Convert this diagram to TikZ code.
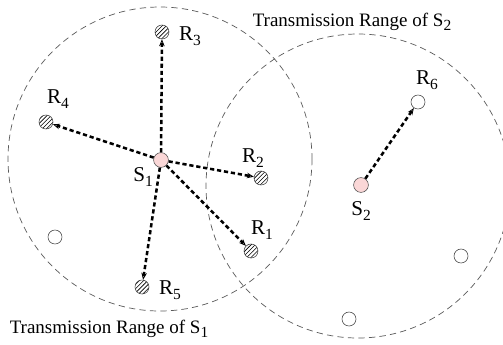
\documentclass[tikz,border=0pt]{standalone}
\usepackage{fontspec}
\setmainfont{Liberation Serif}
\usepackage{tikz}
\usetikzlibrary{patterns,arrows.meta}

\definecolor{srcpink}{RGB}{250,215,215}
\definecolor{rangegray}{RGB}{90,90,90}
\newcommand{\rsub}[1]{\raisebox{-0.45ex}{\fontsize{11}{13}\selectfont #1}}

\begin{document}
\begin{tikzpicture}[x=0.025cm,y=-0.025cm,
  font=\fontsize{13.5}{16}\selectfont,
  src/.style={circle,draw=black!70,fill=srcpink,minimum size=0.37cm,inner sep=0pt},
  rcv/.style={circle,draw=black!75,pattern=north east lines,minimum size=0.35cm,inner sep=0pt},
  idle/.style={circle,draw=black!75,fill=white,minimum size=0.35cm,inner sep=0pt},
  lab/.style={font=\fontsize{15}{17}\selectfont},
  rangeline/.style={draw=rangegray,dashed,dash pattern=on 4.5pt off 3pt,line width=0.5pt},
  send/.style={dashed,dash pattern=on 3pt off 2pt,line width=1.8pt,
    -{Stealth[open,length=5pt,width=4pt,line width=0.6pt]}}]
\useasboundingbox (0,0) rectangle (503,344);
\clip (0,0) rectangle (503,344);

% transmission ranges
\draw[rangeline] (160,159) circle[radius=152];
\draw[rangeline] (358,186) circle[radius=152];

\node (S1) at (161,160) [src] {};
\node (S2) at (361,185) [src] {};

\node (R1) at (251,251) [rcv] {};
\node (R2) at (261,178) [rcv] {};
\node (R3) at (162,32) [rcv] {};
\node (R4) at (46,122) [rcv] {};
\node (R5) at (142,287) [rcv] {};
\node (R6) at (418,102) [idle] {};

\node (N1) at (55,237) [idle] {};
\node (N2) at (461,256) [idle] {};
\node (N3) at (349,319) [idle] {};

\node (lS1) at (143,177) [lab] {S\rsub{1}};
\node (lS2) at (361,211) [lab] {S\rsub{2}};
\node (lR1) at (262,230) [lab] {R\rsub{1}};
\node (lR2) at (253,158) [lab] {R\rsub{2}};
\node (lR3) at (190,36) [lab] {R\rsub{3}};
\node (lR4) at (58,99) [lab] {R\rsub{4}};
\node (lR5) at (170,290) [lab] {R\rsub{5}};
\node (lR6) at (427,80) [lab] {R\rsub{6}};

\node (T2) at (352,22) {Transmission Range of S\rsub{2}};
\node (T1) at (109,329) {Transmission Range of S\rsub{1}};

\draw[send] (S1)--(R1);
\draw[send] (S1)--(R2);
\draw[send] (S1)--(R3);
\draw[send] (S1)--(R4);
\draw[send] (S1)--(R5);
\draw[send] (S2)--(R6);
\end{tikzpicture}
\end{document}
